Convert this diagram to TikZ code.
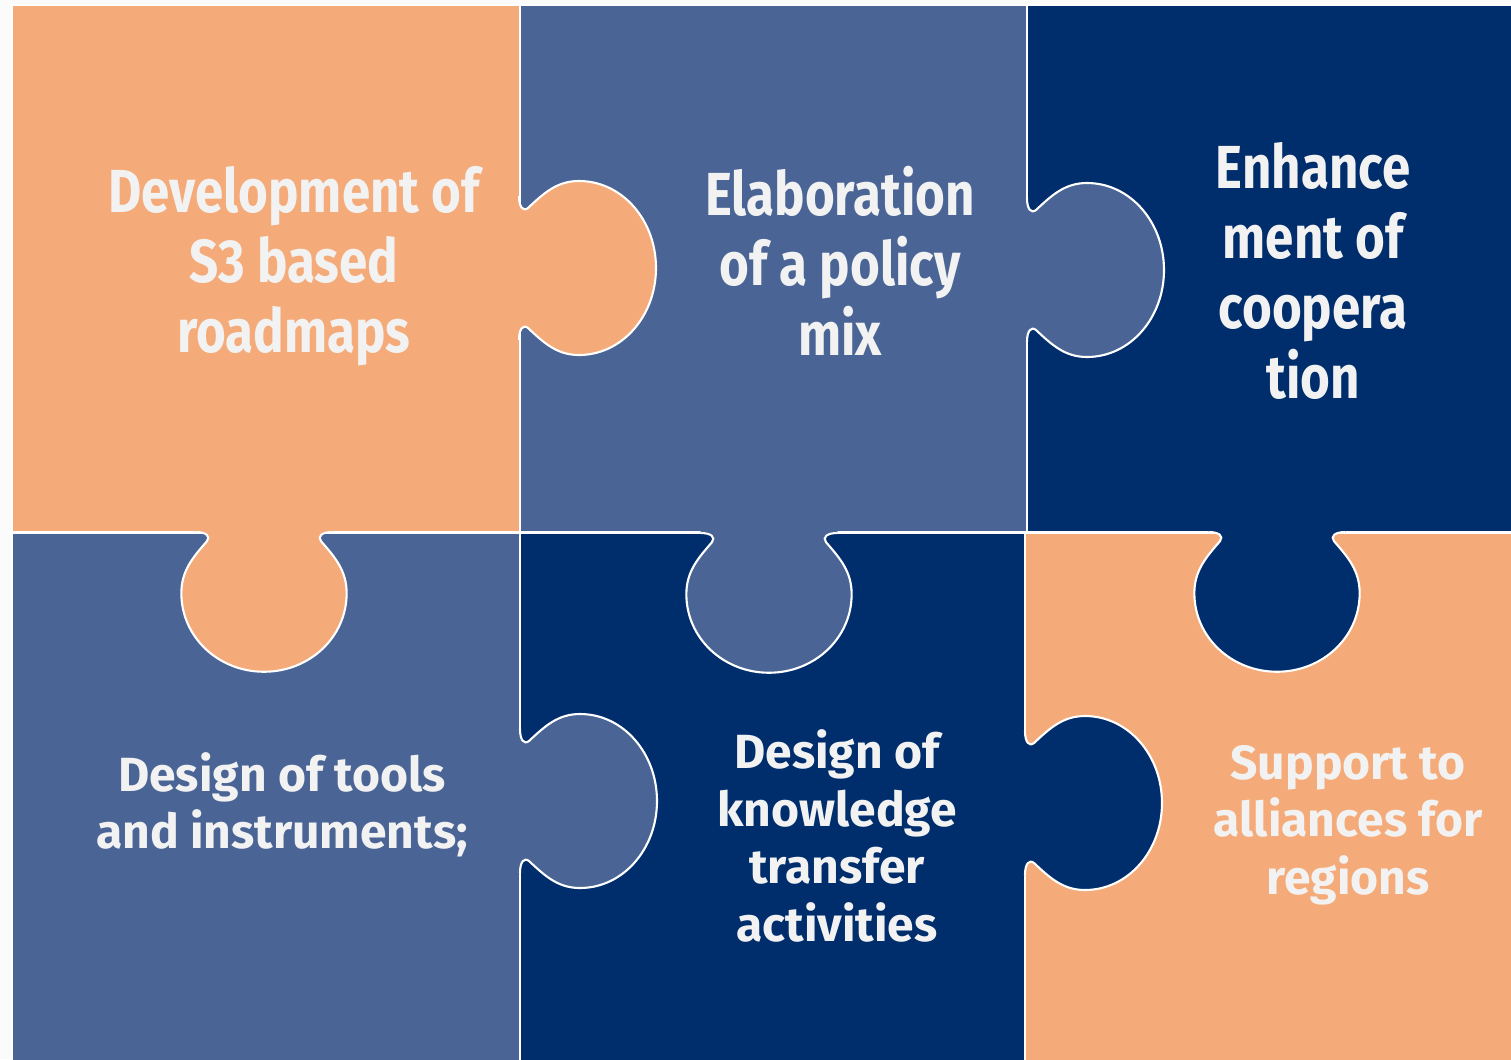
\documentclass[tikz,border=0pt]{standalone}
\usepackage{fontspec}
\setmainfont{Fira Sans}
\newfontfamily\condfont[FakeStretch=0.84]{Fira Sans}
\usepackage{xcolor}
\usepackage{tikz}
\definecolor{puzorange}{HTML}{F4AB79}
\definecolor{puzblue}{HTML}{4A6595}
\definecolor{puznavy}{HTML}{002D6B}
\definecolor{puztext}{HTML}{F2F2F2}
\newcommand{\topfont}{\condfont\bfseries\fontsize{34.6pt}{39.7pt}\selectfont}
\newcommand{\lowfont}{\bfseries\fontsize{27.3pt}{32.7pt}\selectfont}
% one tab of a piece: shift, transform options, colour
\newcommand{\knob}[3]{%
  \begin{scope}[shift={#1}, #2]
    \fill[#3] (-8,72) -- (0,72) .. controls (0,61) and (4,56) .. (9,60)
      .. controls (25,75) and (38,87) .. (60,87)
      .. controls (103,87) and (137,48) .. (137,0)
      .. controls (137,-48) and (103,-87) .. (60,-87)
      .. controls (38,-87) and (25,-75) .. (9,-60)
      .. controls (4,-56) and (0,-61) .. (0,-72) -- (-8,-72) -- cycle;
    \draw[knobline] (0,72) .. controls (0,61) and (4,56) .. (9,60)
      .. controls (25,75) and (38,87) .. (60,87)
      .. controls (103,87) and (137,48) .. (137,0)
      .. controls (137,-48) and (103,-87) .. (60,-87)
      .. controls (38,-87) and (25,-75) .. (9,-60)
      .. controls (4,-56) and (0,-61) .. (0,-72);
  \end{scope}}

\begin{document}
\begin{tikzpicture}[x=0.02cm, y=0.02cm,
    piece/.style={draw=white, line width=1.4pt},
    knobline/.style={draw=white, line width=1.2pt},
    right tab/.style={rotate=0},
    down tab/.style={rotate=-90, xscale=1.02, yscale=0.95},
    toplabel/.style={align=center, text=puztext, font=\topfont},
    lowlabel/.style={align=center, text=puztext, font=\lowfont}]
    \clip (0,0) rectangle (1511,-1059);
    \fill[gray!3] (0,0) rectangle (1511,-1059);

    % Pieces
    \draw[piece, fill=puzorange] (12,-5) rectangle (520,-532);
    \draw[piece, fill=puzblue] (520,-5) rectangle (1027,-532);
    \draw[piece, fill=puznavy] (1027,-5) rectangle (1540,-532);
    \draw[piece, fill=puzblue] (12,-533) rectangle (520,-1080);
    \draw[piece, fill=puznavy] (520,-533) rectangle (1025,-1080);
    \draw[piece, fill=puzorange] (1025,-533) rectangle (1540,-1080);

    % Tabs
    \knob{(519,-268)}{right tab}{puzorange}
    \knob{(264,-532)}{down tab}{puzorange}
    \knob{(1027,-270)}{right tab}{puzblue}
    \knob{(769,-533)}{down tab}{puzblue}
    \knob{(1277,-532)}{down tab}{puznavy}
    \knob{(520,-801)}{right tab}{puzblue}
    \knob{(1025,-803)}{right tab}{puznavy}

    % Labels
    \node[toplabel] (roadmaps) at (294,-266) {Development of\\S3 based\\roadmaps};
    \node[toplabel] (policy) at (840,-261) {Elaboration\\of a policy\\mix};
    \node[toplabel] (cooperation) at (1313,-271) {Enhance\\ment of\\coopera\\tion};
    \node[lowlabel] (tools) at (282,-805) {Design of tools\\and instruments;};
    \node[lowlabel] (transfer) at (837,-836) {Design of\\knowledge\\transfer\\activities};
    \node[lowlabel] (alliances) at (1348,-825) {Support to\\alliances for\\regions};
\end{tikzpicture}
\end{document}
